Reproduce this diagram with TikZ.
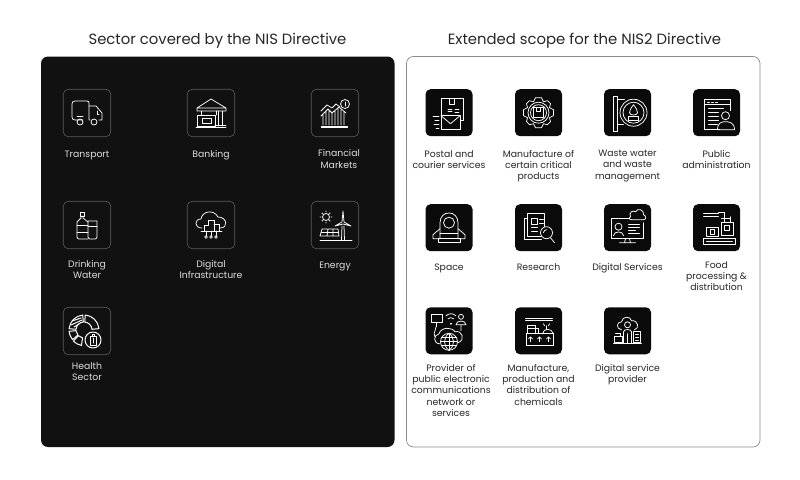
\documentclass[tikz,border=0pt]{standalone}
\usepackage{fontspec}
\setmainfont{Poppins}
\usepackage{xcolor}
\definecolor{panelblack}{HTML}{111111}
\definecolor{tileblack}{HTML}{0A0A0A}
\definecolor{tileedge}{HTML}{5A5A5A}
\definecolor{panelgrey}{HTML}{8A8A8A}
\definecolor{darktext}{HTML}{262626}
\definecolor{lighttext}{HTML}{DDDDDD}
\tikzset{
  titletext/.style={inner sep=0pt,text=darktext,font=\fontsize{14.85}{18}\selectfont},
  darktile/.style={minimum size=47.5pt,inner sep=0pt,rounded corners=5pt,draw=tileedge,line width=0.6pt,fill=panelblack},
  lighttile/.style={minimum size=47pt,inner sep=0pt,rounded corners=5pt,fill=tileblack},
  darklabel/.style={anchor=north,inner sep=0pt,align=center,text=lighttext,font=\fontsize{9.3}{11.3}\selectfont,execute at begin node=\strut},
  lightlabel/.style={anchor=north,inner sep=0pt,align=center,text=darktext,font=\fontsize{9.3}{11.3}\selectfont,execute at begin node=\strut},
  glyph/.style={draw=white,line width=0.75pt,line join=round,line cap=round},
}
\begin{document}
\begin{tikzpicture}[x=1pt,y=-1pt]
\useasboundingbox (0,0) rectangle (800,479);
% panels
\node[titletext] (lefttitle) at (217.5,40.5) {Sector covered by the NIS Directive};
\node[titletext] (righttitle) at (584.5,40.5) {Extended scope for the NIS2 Directive};
\fill[panelblack,rounded corners=7pt] (41,56.5) rectangle (394.5,447);
\draw[panelgrey,line width=0.7pt,rounded corners=7pt] (406.5,56.5) rectangle (760,447);
% left tiles
\node[darktile] (transport) at (87,113) {};
\node[darktile] (banking) at (211,113) {};
\node[darktile] (financial) at (335,113) {};
\node[darktile] (drinking) at (87,225) {};
\node[darktile] (infrastructure) at (211,225) {};
\node[darktile] (energy) at (335,225) {};
\node[darktile] (health) at (87,331) {};
\node[darklabel] (transportlabel) at (87,149.5) {Transport};
\node[darklabel] (bankinglabel) at (211,149.5) {Banking};
\node[darklabel] (financiallabel) at (339,149.5) {Financial\\Markets};
\node[darklabel] (drinkinglabel) at (87,260) {Drinking\\Water};
\node[darklabel] (infrastructurelabel) at (211,260) {Digital\\Infrastructure};
\node[darklabel] (energylabel) at (335,260) {Energy};
\node[darklabel] (healthlabel) at (87,362) {Health\\Sector};
% right tiles
\node[lighttile] (postal) at (449,112.7) {};
\node[lighttile] (certain) at (538.5,112.7) {};
\node[lighttile] (waste) at (627.5,112.7) {};
\node[lighttile] (public) at (716.5,112.7) {};
\node[lighttile] (space) at (449,227.7) {};
\node[lighttile] (research) at (538.5,227.7) {};
\node[lighttile] (services) at (627.5,227.7) {};
\node[lighttile] (food) at (716.5,227.7) {};
\node[lighttile] (provider) at (449,330.8) {};
\node[lighttile] (chemicals) at (538.5,330.8) {};
\node[lighttile] (digitalprovider) at (627.5,330.8) {};
\node[lightlabel] (postallabel) at (449,150) {Postal and\\courier services};
\node[lightlabel] (certainlabel) at (538.5,150) {Manufacture of\\certain critical\\products};
\node[lightlabel] (wastelabel) at (627.5,150) {Waste water\\and waste\\management};
\node[lightlabel] (publiclabel) at (716.5,150) {Public\\administration};
\node[lightlabel] (spacelabel) at (449,262.7) {Space};
\node[lightlabel] (researchlabel) at (538.5,262.7) {Research};
\node[lightlabel] (serviceslabel) at (627.5,262.7) {Digital Services};
\node[lightlabel] (foodlabel) at (716.5,261) {Food\\processing \&\\distribution};
\node[lightlabel] (providerlabel) at (451,364) {Provider of\\public electronic\\communications\\network or\\services};
\node[lightlabel] (chemicalslabel) at (538.5,364) {Manufacture,\\production and\\distribution of\\chemicals};
\node[lightlabel] (digitalproviderlabel) at (627.5,364) {Digital service\\provider};
% truck
\begin{scope}[shift={(transport.center)},glyph]
\draw (-4,7) -- (-12,7) .. controls (-14,7) and (-15,6) .. (-15,4) -- (-15,-9) .. controls (-15,-11) and (-14,-12) .. (-12,-12) -- (0,-12) .. controls (2,-12) and (2,-11) .. (2,-9) -- (2,7) -- (3,7);
\draw (2,-7) -- (9,-7) -- (15,0) -- (15,7) -- (12,7);
\draw (-7,9) circle (3) (7,9) circle (3);
\draw (-10,3) -- (-4,3);
\draw (10,-2) -- (10,1) -- (12,1);
\end{scope}
% bank
\begin{scope}[shift={(banking.center)},glyph]
\draw (-14,-5) -- (0,-14) -- (15,-5) -- cycle (-14,-5) -- (-14,-2) -- (15,-2) -- (15,-5);
\draw (-10,-2) -- (-10,2) (5,-2) -- (5,2) (11,-2) -- (11,13) (7,-2) -- (7,13);
\draw (-14,2) rectangle (4,13) (-9,5) rectangle (0,10);
\draw (-15,14) -- (15,14) (4,12) -- (15,12);
\end{scope}
% markets
\begin{scope}[shift={(financial.center)},glyph]
\draw (10,-9) circle (4.5);
\draw (10,-11) -- (10,-7);
\draw (-14,-2) -- (-8,-8) -- (-3,-5) -- (1,-9) -- (5,-6);
\draw (-12,2) -- (-12,12) (-9,-1) -- (-9,12) (-6,-3) -- (-6,12) (-3,-1) -- (-3,12) (0,-3) -- (0,12) (3,-5) -- (3,12) (6,-3) -- (6,12) (9,-1) -- (9,12) (-14,3) -- (-7,-4) -- (-3,0) -- (4,-6) -- (11,0);
\draw (-14,13) rectangle (12,14.5);
\end{scope}
% bottle
\begin{scope}[shift={(drinking.center)},glyph]
\draw (-7,-13) rectangle (-3,-9);
\draw (-6,-9) -- (-6,-7) -- (-10,-3) -- (-10,12) .. controls (-10,13) and (-9,14) .. (-8,14) -- (1,14) (-4,-9) -- (-4,-7) -- (1,-3);
\draw (-10,0) -- (1,0) (-10,7) -- (1,7);
\draw (1,-4) -- (10,-4) -- (10,12) .. controls (10,13) and (9,14) .. (8,14) -- (3,14) .. controls (2,14) and (1,13) .. (1,12) -- cycle;
\draw (1,1) -- (10,1);
\end{scope}
% cloud with city
\begin{scope}[shift={(infrastructure.center)},glyph]
\draw (-9,3) .. controls (-17,3) and (-17,-6) .. (-10,-6) .. controls (-9,-14) and (3,-16) .. (7,-8) .. controls (16,-8) and (18,3) .. (9,3);
\draw (-7,6) -- (-7,0) -- (-3,0) -- (-3,-5) -- (3,-5) -- (3,6) (3,-1) -- (8,-1) -- (8,6);
\draw (-10,6) -- (11,6);
\draw (-5,6) -- (-5,11) (0,6) -- (0,11) (5,6) -- (5,11);
\draw (-5,12) circle (1.3) (0,12) circle (1.3) (5,12) circle (1.3);
\end{scope}
% sun wind and panel
\begin{scope}[shift={(energy.center)},glyph]
\draw (-9,-8) circle (3.5);
\draw (-9,-14) -- (-9,-13) (-9,-3) -- (-9,-2) (-15,-8) -- (-14,-8) (-4,-8) -- (-3,-8) (-13,-12) -- (-12,-11) (-6,-5) -- (-5,-4) (-13,-4) -- (-12,-5) (-6,-11) -- (-5,-12);
\draw (8,-14) -- (9,-3) -- (16,1) -- (8,-1) -- (0,1) -- (7,-3) -- cycle;
\draw (7,1) -- (6.5,15) (9,1) -- (9.5,15);
\draw (-13,4) -- (3,4) -- (4,11) -- (-15,11) -- cycle (-7,4) -- (-8,11) (-2,4) -- (-2,11) (-14,7.5) -- (3.5,7.5);
\draw[line width=0.9pt] (-15,15) -- (17,15);
\end{scope}
% health pie
\begin{scope}[shift={(health.center)},glyph,line width=1pt]
\draw (-1.7,-16) arc (-85:-5:15) -- (5,-1.7) arc (-5:-85:8) -- cycle;
\draw (-17.9,-2.3) arc (-175:-95:15) -- (-3.7,-9) arc (-95:-175:8) -- cycle;
\draw (-15,-10) -- (-6,-13) (-16,-6) -- (-5,-11) (-13,-4) -- (-8,-7);
\draw (-17.9,0.3) arc (175:140:15) -- (-9.1,4.1) arc (140:175:8) -- cycle;
\draw (-13.6,10.2) arc (135:100:15) -- (-4.4,6.9) arc (100:135:8) -- cycle;
\draw[fill=panelblack] (6,9) circle (8);
\draw (3,5) rectangle (9,14) (5,5) -- (5,3.5) -- (7,3.5) -- (7,5) (6,7) -- (6,12);
\end{scope}
% parcel and envelope
\begin{scope}[shift={(postal.center)},glyph]
\draw (-8,3) -- (-8,-14) -- (14,-14) -- (14,8) -- (11,8);
\draw (0,-14) -- (0,-8) -- (5,-8) -- (5,-14);
\draw (-1,-3) -- (3,-3) (-1,-1) -- (3,-1) (6,-3) -- (10,-3) (6,0) -- (10,0);
\draw[fill=tileblack] (-8,3) -- (11,3) -- (11,17) -- (-8,17) -- cycle;
\draw (-8,3) -- (1.5,11) -- (11,3);
\draw (-16,4) -- (-10,4) (-14,8) -- (-10,8) (-15,12) -- (-10,12) (-13,16) -- (-10,16);
\end{scope}
% gear
\begin{scope}[shift={(certain.center)},glyph]
\draw (-3,-15) -- (3,-15) -- (5,-11) -- (9,-12) -- (12,-9) -- (11,-5) -- (15,-3) -- (15,3) -- (11,5) -- (12,9) -- (9,12) -- (5,11) -- (3,15) -- (-3,15) -- (-5,11) -- (-9,12) -- (-12,9) -- (-11,5) -- (-15,3) -- (-15,-3) -- (-11,-5) -- (-12,-9) -- (-9,-12) -- (-5,-11) -- cycle;
\draw (0,0) circle (10.5) (0,0) circle (8);
\draw (-5,-5) rectangle (5,5);
\draw (-2,-5) -- (-2,-1) -- (2,-1) -- (2,-5);
\end{scope}
% signboard with drop
\begin{scope}[shift={(waste.center)},glyph]
\draw (-14,-16) rectangle (-10,19);
\draw (-10,-13) -- (-3,-13) (-10,12) -- (-4,12);
\draw (6,0) circle (13.5) (6,0) circle (10.5);
\draw (6,-8) .. controls (3,-4) and (2,-2) .. (2,0) .. controls (2,3) and (10,3) .. (10,0) .. controls (10,-2) and (9,-4) .. (6,-8) -- cycle;
\draw (1,4) rectangle (11,8);
\end{scope}
% document and person
\begin{scope}[shift={(public.center)},glyph]
\draw (3,17) -- (-12,17) -- (-12,-13) -- (14,-13) -- (14,-2);
\draw (-12,-8) -- (14,-8);
\draw (-9,-10.5) -- (-7,-10.5) (-5,-10.5) -- (-3,-10.5) (-1,-10.5) -- (1,-10.5);
\draw (-8,-4) -- (7,-4) (-8,0) -- (2,0) (-8,4) -- (2,4) (-8,8) -- (2,8) (-8,12) -- (1,12);
\draw (9,3) circle (4);
\draw (1,17) .. controls (1,10) and (5,9) .. (9,9) .. controls (13,9) and (18,10) .. (18,17) -- cycle;
\end{scope}
% rocket
\begin{scope}[shift={(space.center)},glyph]
\draw (-9,11) -- (-9,-5) .. controls (-9,-18) and (9,-18) .. (9,-5) -- (9,11);
\draw (0,-5) circle (5.5);
\draw (-9,1) -- (-16,7) -- (-16,11) -- (-9,11) (9,1) -- (16,7) -- (16,11) -- (9,11);
\draw (-9,6) -- (9,6);
\draw (-11,11) rectangle (11,15);
\end{scope}
% papers and magnifier
\begin{scope}[shift={(research.center)},glyph]
\draw (-14,-9) -- (-14,12) -- (3,12) (-14,-9) -- (-11,-9);
\draw (-11,-14) rectangle (6,9);
\draw (-7,-9) rectangle (-1,-3) (1,-8) -- (5,-8) (1,-4) -- (5,-4) (-7,0) -- (-1,0) (-7,4) -- (-1,4);
\draw[fill=tileblack] (8,5) circle (6);
\draw (12,10) -- (16,15);
\draw (5,5) arc (180:270:3);
\end{scope}
% monitor with cloud
\begin{scope}[shift={(services.center)},glyph]
\draw (3,-9) -- (-16,-9) -- (-16,11) -- (16,11) -- (16,-5);
\draw (-2,11) -- (-3,15) (2,11) -- (3,15) (-8,15) -- (8,15);
\draw[fill=tileblack] (3,-11) .. controls (1,-15) and (5,-18) .. (8,-16) .. controls (10,-20) and (17,-18) .. (16,-13) .. controls (19,-12) and (19,-8) .. (16,-8) -- (4,-8) .. controls (1,-8) and (1,-11) .. (3,-11) -- cycle;
\draw (-9,-1) circle (3.5) (-14,8) .. controls (-14,3) and (-4,3) .. (-4,8);
\draw (1,-3) -- (12,-3) (1,0) -- (12,0) (1,3) -- (8,3) (1,6) -- (12,6);
\end{scope}
% food line
\begin{scope}[shift={(food.center)},glyph]
\draw (-13,11) rectangle (19,17);
\draw (-10,14) -- (16,14);
\draw (-10,0) rectangle (2,9) (-6,2) rectangle (-2,7);
\draw (5,-5) rectangle (17,8) (8,-2) rectangle (13,3);
\draw (-13,-14) -- (2,-14) (-13,-11) -- (2,-11) (2,-15) -- (8,-15) -- (8,-5) (5,-9) -- (14,-9) (14,-11) -- (14,-5);
\end{scope}
% network provider
\begin{scope}[shift={(provider.center)},glyph]
\draw (-18,-16) rectangle (-7,-8) (-13,-8) -- (-13,-4);
\draw (-13,-4) .. controls (-14,2) and (-16,2) .. (-14,6) (-1,-12) arc (225:315:4) (-3,-15) arc (225:315:7) (2,-7) circle (0.6);
\draw (12,-14) circle (2.5) (7,-6) .. controls (7,-11) and (17,-11) .. (17,-6) -- cycle (12,-6) -- (12,0);
\draw (-9,13) .. controls (-16,13) and (-16,4) .. (-10,3) .. controls (-8,-4) and (3,-4) .. (6,1) .. controls (13,-1) and (17,9) .. (9,12);
\draw[fill=tileblack] (0,11) circle (8.5);
\draw (0,2.5) -- (0,19.5) (-8.5,11) -- (8.5,11) (-7.5,7) -- (7.5,7) (-7.5,15) -- (7.5,15);
\draw (0,2.5) .. controls (-6,7) and (-6,15) .. (0,19.5) .. controls (6,15) and (6,7) .. (0,2.5);
\end{scope}
% chemical plant
\begin{scope}[shift={(chemicals.center)},glyph]
\draw (-13,-12) -- (14,-12) (-13,-10) -- (14,-10);
\draw (-11,3) -- (-11,-5) -- (-3,-5) -- (-3,3) (-11,-2) -- (-3,-2) (-3,-2) -- (0,-2) -- (0,3);
\draw (4,3) .. controls (5,-3) and (13,-3) .. (15,3) (8,-5) -- (8,-2) (5,-7) -- (6,-5) (11,-7) -- (10,-5);
\draw (-12,3) rectangle (15,15);
\draw (-8,7) -- (-8,11) (-10,8) -- (-8,6) -- (-6,8) (1,7) -- (1,11) (-1,8) -- (1,6) -- (3,8) (10,7) -- (10,11) (8,8) -- (10,6) -- (12,8);
\end{scope}
% cloud person laptop
\begin{scope}[shift={(digitalprovider.center)},glyph]
\draw (-6,-1) .. controls (-12,-2) and (-11,-9) .. (-6,-9) .. controls (-5,-15) and (3,-15) .. (4,-10) .. controls (11,-11) and (12,-2) .. (7,-1);
\draw (0,-6) circle (3) (-4,12) -- (-4,1) .. controls (-4,-2) and (4,-2) .. (4,1) -- (4,12) (0,3) -- (0,12);
\draw (-13,6) rectangle (-5,12) (-12,3) -- (-7,3) -- (-7,6) (-14,13) -- (14,13);
\draw (6,1) rectangle (13,12) (8,4) -- (11,4) (8,7) -- (11,7) (8,10) -- (11,10);
\end{scope}
\end{tikzpicture}
\end{document}
